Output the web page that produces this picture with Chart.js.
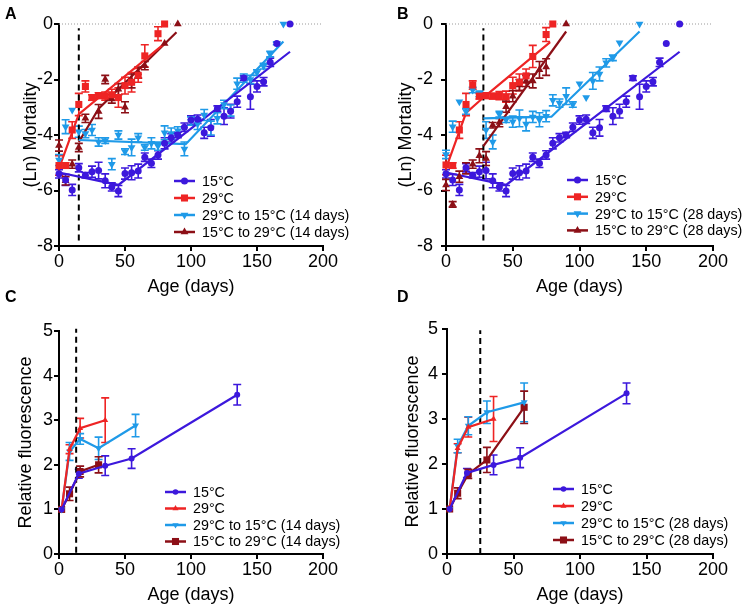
<!DOCTYPE html>
<html>
<head>
<meta charset="utf-8">
<script src="https://cdn.jsdelivr.net/npm/chart.js@4.4.0/dist/chart.umd.min.js"></script>
<style>
  body{margin:0;background:#fff;width:747px;height:610px;position:relative;overflow:hidden;font-family:"Liberation Sans",Arial,sans-serif}
  canvas{position:absolute}
  .lbl{position:absolute;font:bold 16px "Liberation Sans",Arial,sans-serif;line-height:16px;color:#000}
</style>
</head>
<body>
<canvas id="cA" width="373" height="300" style="left:0;top:0"></canvas>
<canvas id="cB" width="372" height="300" style="left:375px;top:0"></canvas>
<canvas id="cC" width="373" height="310" style="left:0;top:300px"></canvas>
<canvas id="cD" width="372" height="310" style="left:375px;top:300px"></canvas>
<div class="lbl" style="left:5px;top:6px">A</div>
<div class="lbl" style="left:397px;top:6px">B</div>
<div class="lbl" style="left:5px;top:289px">C</div>
<div class="lbl" style="left:397px;top:289px">D</div>
<script>
// --- colours ---
const PURPLE = "#3c18dc", RED = "#ee2424", BLUE = "#1f9ae8", DRED = "#8c0f16";

// --- panel A/B : (Ln) mortality, 15°C control (same in A and B) ---
const ageCtl  = [0,5,10,15,20,25,30,35,40,45,50,55,60,65,70,75,80,85,90,95,100,105,110,115,120,125,130,135,140,145,150,155,160,165,175];
const mortCtl = [-5.4,-5.62,-5.98,-5.18,-5.45,-5.32,-5.28,-5.65,-5.87,-6.02,-5.39,-5.36,-5.3,-4.8,-5.02,-4.72,-4.3,-4.1,-4.0,-3.72,-3.46,-3.43,-3.92,-3.74,-3.05,-3.32,-3.14,-2.8,-1.95,-2.62,-2.25,-2.08,-1.38,-0.7,0];
const errCtl  = [0.15,0.2,0.2,0.15,0.1,0.2,0.3,0.25,0.15,0.2,0.2,0.25,0.25,0.15,0.15,0.15,0.2,0.15,0.1,0.15,0.15,0.15,0.2,0.3,0.1,0.3,0.25,0.2,0.08,0.45,0.2,0.15,0.15,0,0];

// 29°C control
const ageHotA  = [0,5,10,15,20,25,30,35,40,45,50,55,60,65,75,80];
const mortHotA = [-5.1,-5.1,-3.82,-2.9,-2.25,-2.65,-2.58,-2.6,-2.55,-2.65,-2.22,-2.1,-1.85,-1.15,-0.35,0];
const errHotA  = [0.35,0.1,0.3,0.4,0.2,0.1,0.1,0.15,0.2,0.35,0.3,0.35,0.25,0.4,0.25,0];
const ageHotB  = [0,5,10,15,20,25,30,35,40,45,50,55,60,65,75,80];
const mortHotB = [-5.08,-5.1,-3.82,-2.9,-2.2,-2.6,-2.58,-2.6,-2.58,-2.62,-2.22,-2.1,-1.87,-1.17,-0.38,0];
const errHotB  = [0.35,0.1,0.3,0.4,0.15,0.1,0.1,0.1,0.15,0.2,0.3,0.3,0.25,0.4,0.25,0];

// 29°C -> 15°C
const ageDownA  = [0,5,10,15,20,25,30,35,40,45,50,55,60,65,70,75,80,85,90,95,100,105,110,115,120,125,130,135,140,145,150,155,160,165,170];
const mortDownA = [-4.9,-3.7,-3.1,-3.88,-3.95,-3.82,-4.25,-4.2,-5.05,-4.0,-4.6,-4.45,-4.1,-4.45,-4.3,-4.4,-3.92,-3.95,-3.85,-4.5,-3.5,-3.6,-3.28,-3.75,-3.4,-2.9,-3.12,-2.15,-1.95,-2.0,-1.75,-1.52,-1.08,-0.7,0];
const errDownA  = [0.2,0.25,0,0.2,0.15,0.2,0.15,0.1,0.2,0.15,0.1,0.3,0.15,0.1,0.2,0.15,0.25,0.2,0.15,0.25,0.15,0.2,0.2,0.25,0.2,0.15,0.2,0.2,0.15,0.15,0.1,0.1,0.1,0.05,0];
const ageDownB  = [0,5,10,15,20,25,30,35,40,45,50,55,60,65,70,75,80,85,90,95,100,105,110,115,120,125,130,145];
const mortDownB = [-4.7,-3.7,-2.8,-3.15,-2.38,-2.52,-3.82,-4.25,-3.25,-3.45,-3.52,-3.4,-3.6,-3.35,-3.45,-3.32,-2.75,-2.85,-2.6,-2.9,-2.15,-2.65,-2.05,-1.8,-1.4,-1.22,-0.68,0];
const errDownB  = [0.15,0.2,0,0.1,0.1,0.1,0.3,0.25,0.1,0.1,0.2,0.3,0.25,0.2,0.25,0.2,0.2,0.15,0.3,0.1,0,0,0.3,0.25,0.15,0.1,0,0];

// 15°C -> 29°C
const ageUpA  = [0,5,10,15,20,30,35,40,45,50,55,60,65,80,90];
const mortUpA = [-4.38,-5.65,-5.05,-4.45,-3.4,-3.15,-2.0,-2.7,-2.35,-3.0,-2.05,-1.75,-1.5,-0.7,0];
const errUpA  = [0.2,0.15,0.15,0.15,0.15,0.25,0.15,0.15,0.2,0.2,0.25,0.2,0.15,0,0];
const ageUpB  = [0,5,10,15,20,25,30,35,40,45,50,55,60,65,70,75,90];
const mortUpB = [-5.8,-6.5,-5.5,-5.2,-5.05,-4.75,-4.85,-3.65,-3.55,-2.98,-2.6,-2.2,-2.05,-2.05,-1.65,-1.55,0];
const errUpB  = [0.2,0.1,0.2,0.2,0.15,0.25,0.25,0.1,0.15,0.2,0.2,0.2,0.2,0.25,0.3,0.3,0];

// fitted segments (knots)
const fitCtlX = [0,45,175],      fitCtlY = [-5.35,-5.8,-1.0];
const fitHotAX = [0,15,81],      fitHotAY = [-5.2,-3.25,-0.66];
const fitHotBX = [0,15,28,78],   fitHotBY = [-5.2,-3.2,-2.65,-0.65];
const fitDownAX = [15,96,170],   fitDownAY = [-4.18,-4.33,-0.63];
const fitDownBX = [28,79,145],   fitDownBY = [-3.4,-3.34,-0.27];
const fitUpAX = [15,30,89],      fitUpAY = [-4.25,-3.05,-0.3];
const fitUpBX = [28,90],         fitUpBY = [-4.4,-0.27];

// reference lines
const zeroX = [0,200], zeroY = [0,0];
const shiftAX = [15,15], shiftAY = [-7.8,-0.15];
const shiftBX = [28,28], shiftBY = [-7.8,-0.15];
const shiftCX = [13,13], shiftCY = [0.03,5.05];
const shiftDX = [25,25], shiftDY = [0,4.97];

// --- panel C/D : relative fluorescence ---
const fAgeCtl = [2,15,35,55,135];
const fCtl    = [1.0,1.8,1.98,2.14,3.57];
const fErrCtl = [0,0.1,0.22,0.22,0.23];
const fAgeHot = [2,8,16,35];
const fHot    = [1.0,2.35,2.82,3.0];
const fErrHot = [0,0.1,0.22,0.5];
const fAgeDownC = [2,8,16,30,58];
const fDownC    = [1.0,2.3,2.58,2.37,2.88];
const fErrDownC = [0,0.2,0.12,0.25,0.25];
const fAgeUpC = [2,8,16,30];
const fUpC    = [1.0,1.35,1.85,2.0];
const fErrUpC = [0,0.15,0.12,0.18];
const fAgeDownD = [2,8,16,30,58];
const fDownD    = [1.0,2.4,2.85,3.15,3.37];
const fErrDownD = [0,0.15,0.2,0.25,0.43];
const fAgeUpD = [2,8,16,30,58];
const fUpD    = [1.0,1.35,1.78,2.09,3.26];
const fErrUpD = [0,0.12,0.1,0.28,0.36];

const xTicks = [0,50,100,150,200];
const mortTicks = [0,-2,-4,-6,-8];
const fluoTicks = [0,1,2,3,4,5];

const FONT = '"Liberation Sans", Arial, sans-serif';

function pts(xs, ys){ return xs.map((x,i)=>({x, y: ys[i]})); }

// error bars drawn under the markers
const errorBars = {
  id: "errorBars",
  beforeDatasetsDraw(chart){
    const {ctx, scales:{x, y}} = chart;
    chart.data.datasets.forEach(ds=>{
      if (!ds.errors) return;
      ctx.save();
      ctx.strokeStyle = ds.borderColor;
      ctx.lineWidth = 1.6;
      ds.data.forEach((p,j)=>{
        const e = ds.errors[j];
        if (!e) return;
        const px = x.getPixelForValue(p.x);
        const y1 = y.getPixelForValue(p.y + e), y2 = y.getPixelForValue(p.y - e);
        ctx.beginPath();
        ctx.moveTo(px, y1); ctx.lineTo(px, y2);
        ctx.moveTo(px-4, y1); ctx.lineTo(px+4, y1);
        ctx.moveTo(px-4, y2); ctx.lineTo(px+4, y2);
        ctx.stroke();
      });
      ctx.restore();
    });
  }
};

function marker(ctx, style, r, x, y, rot){
  ctx.beginPath();
  if (style === "circle"){ ctx.arc(x, y, r, 0, Math.PI*2); }
  else if (style === "rect"){ const s = r*Math.SQRT1_2; ctx.rect(x-s, y-s, 2*s, 2*s); }
  else {
    let a = (rot||0)*Math.PI/180;
    for (let k=0;k<3;k++){
      const px = x + Math.sin(a)*r, py = y - Math.cos(a)*r;
      k ? ctx.lineTo(px,py) : ctx.moveTo(px,py);
      a += Math.PI*2/3;
    }
    ctx.closePath();
  }
  ctx.fill();
}

// legend inside the plot, GraphPad style
const panelLegend = {
  id: "panelLegend",
  afterDraw(chart, args, o){
    if (!o || !o.items) return;
    const ctx = chart.ctx;
    ctx.save();
    ctx.font = "14.3px " + FONT;
    ctx.textBaseline = "middle";
    o.items.forEach((it,i)=>{
      const y = o.y + i*o.step;
      ctx.strokeStyle = it.c; ctx.fillStyle = it.c; ctx.lineWidth = 2.5;
      ctx.beginPath(); ctx.moveTo(o.x, y); ctx.lineTo(o.x+21, y); ctx.stroke();
      marker(ctx, it.s, it.r, o.x+10.5, y, it.rot);
      ctx.fillStyle = "#000";
      ctx.fillText(it.t, o.x+28, y+1);
    });
    ctx.restore();
  }
};

function scatterSet(xs, ys, errs, color, style, r, rot){
  return {type:"scatter", data: pts(xs, ys), errors: errs, showLine:false,
    pointStyle: style, pointRadius: r, pointRotation: rot||0,
    backgroundColor: color, borderColor: color, borderWidth: 0, clip: false, order: 1};
}
function fitSet(xs, ys, color){
  return {type:"line", data: pts(xs, ys), borderColor: color, borderWidth: 2.2,
    pointRadius: 0, tension: 0, fill: false, clip: false, order: 2};
}
function refSet(xs, ys, color, width, dash){
  return {type:"line", data: pts(xs, ys), borderColor: color, borderWidth: width,
    borderDash: dash, pointRadius: 0, fill: false, clip: false, order: 3};
}
function fluoSet(xs, ys, errs, color, style, r, rot){
  return {type:"line", data: pts(xs, ys), errors: errs, borderColor: color, backgroundColor: color,
    borderWidth: 2.2, pointStyle: style, pointRadius: r, pointRotation: rot||0, pointBorderWidth: 0,
    tension: 0, fill: false, clip: false};
}

function axis(o, min, max, ticks, title, isX){
  return {
    type: "linear", min, max,
    afterBuildTicks: s => { s.ticks = ticks.map(v=>({value:v})); },
    afterFit: s => { if (isX) s.height = o.xH; else s.width = o.yW; },
    ticks: {color:"#000", font:{family:FONT, size:18}, padding: isX ? 0 : o.yPad, autoSkip:false, maxRotation:0},
    grid: {display:true, drawOnChartArea:false, drawTicks:true, tickLength:5, color:"#000", lineWidth:2},
    border: {display:true, color:"#000", width:2},
    title: {display:true, text:title, color:"#000", font:{family:FONT, size:18},
      padding: isX ? {top:0, bottom:o.xTitlePad} : {top:o.yTitlePad, bottom:0}}
  };
}

function panel(id, o){
  return new Chart(document.getElementById(id), {
    type: "scatter",
    data: {datasets: o.datasets},
    options: {
      responsive:false, animation:false, events:[], devicePixelRatio:1,
      layout: {padding:{left:0, right:o.padR, top:o.padT, bottom:0}},
      plugins: {legend:{display:false}, tooltip:{enabled:false}, panelLegend:o.legend},
      scales: {
        x: axis(o, 0, 200, xTicks, "Age (days)", true),
        y: axis(o, o.yMin, o.yMax, o.yTicks, o.yTitle, false)
      }
    },
    plugins: [errorBars, panelLegend]
  });
}

function legendItems(days, fluo){
  const k = fluo ? 0.8 : 1;
  return [
    {t:"15°C", c:PURPLE, s:"circle", r:3.5*k},
    {t:"29°C", c:RED, s: fluo ? "triangle" : "rect", r: fluo ? 3.5 : 5},
    {t:"29°C to 15°C (" + days + " days)", c:BLUE, s:"triangle", r:4.5*k, rot:180},
    {t:"15°C to 29°C (" + days + " days)", c:DRED, s: fluo ? "rect" : "triangle", r: fluo ? 5 : 4.5}
  ];
}

// A
panel("cA", {
  padR:50, padT:24, xH:54, yW:59, yPad:1, yTitlePad:20, xTitlePad:2,
  yMin:-8, yMax:0, yTicks:mortTicks, yTitle:"(Ln) Mortality",
  legend:{x:174, y:181, step:17, items:legendItems(14, false)},
  datasets: [
    refSet(zeroX, zeroY, "#9a9a9a", 1, [1,2]),
    refSet(shiftAX, shiftAY, "#000", 2, [6,4]),
    fitSet(fitCtlX, fitCtlY, PURPLE),
    fitSet(fitHotAX, fitHotAY, RED),
    fitSet(fitDownAX, fitDownAY, BLUE),
    fitSet(fitUpAX, fitUpAY, DRED),
    scatterSet(ageCtl, mortCtl, errCtl, PURPLE, "circle", 3.5),
    scatterSet(ageHotA, mortHotA, errHotA, RED, "rect", 5),
    scatterSet(ageDownA, mortDownA, errDownA, BLUE, "triangle", 4.5, 180),
    scatterSet(ageUpA, mortUpA, errUpA, DRED, "triangle", 4.5)
  ]
});
// B
panel("cB", {
  padR:34, padT:24, xH:54, yW:71, yPad:8, yTitlePad:20, xTitlePad:2,
  yMin:-8, yMax:0, yTicks:mortTicks, yTitle:"(Ln) Mortality",
  legend:{x:192, y:180, step:16.8, items:legendItems(28, false)},
  datasets: [
    refSet(zeroX, zeroY, "#9a9a9a", 1, [1,2]),
    refSet(shiftBX, shiftBY, "#000", 2, [6,4]),
    fitSet(fitCtlX, fitCtlY, PURPLE),
    fitSet(fitHotBX, fitHotBY, RED),
    fitSet(fitDownBX, fitDownBY, BLUE),
    fitSet(fitUpBX, fitUpBY, DRED),
    scatterSet(ageCtl, mortCtl, errCtl, PURPLE, "circle", 3.5),
    scatterSet(ageHotB, mortHotB, errHotB, RED, "rect", 5),
    scatterSet(ageDownB, mortDownB, errDownB, BLUE, "triangle", 4.5, 180),
    scatterSet(ageUpB, mortUpB, errUpB, DRED, "triangle", 4.5)
  ]
});
// C
panel("cC", {
  padR:50, padT:31, xH:56, yW:59, yPad:1, yTitlePad:15, xTitlePad:4,
  yMin:0, yMax:5, yTicks:fluoTicks, yTitle:"Relative fluorescence",
  legend:{x:165, y:192, step:16.5, items:legendItems(14, true)},
  datasets: [
    refSet(shiftCX, shiftCY, "#000", 2, [6,4]),
    fluoSet(fAgeCtl, fCtl, fErrCtl, PURPLE, "circle", 3),
    fluoSet(fAgeHot, fHot, fErrHot, RED, "triangle", 3.5),
    fluoSet(fAgeDownC, fDownC, fErrDownC, BLUE, "triangle", 4, 180),
    fluoSet(fAgeUpC, fUpC, fErrUpC, DRED, "rect", 5)
  ]
});
// D
panel("cD", {
  padR:34, padT:29, xH:56, yW:72, yPad:4, yTitlePad:27, xTitlePad:4,
  yMin:0, yMax:5, yTicks:fluoTicks, yTitle:"Relative fluorescence",
  legend:{x:178, y:189, step:17, items:legendItems(28, true)},
  datasets: [
    refSet(shiftDX, shiftDY, "#000", 2, [6,4]),
    fluoSet(fAgeCtl, fCtl, fErrCtl, PURPLE, "circle", 3),
    fluoSet(fAgeHot, fHot, fErrHot, RED, "triangle", 3.5),
    fluoSet(fAgeDownD, fDownD, fErrDownD, BLUE, "triangle", 4, 180),
    fluoSet(fAgeUpD, fUpD, fErrUpD, DRED, "rect", 5)
  ]
});
</script>
</body>
</html>
